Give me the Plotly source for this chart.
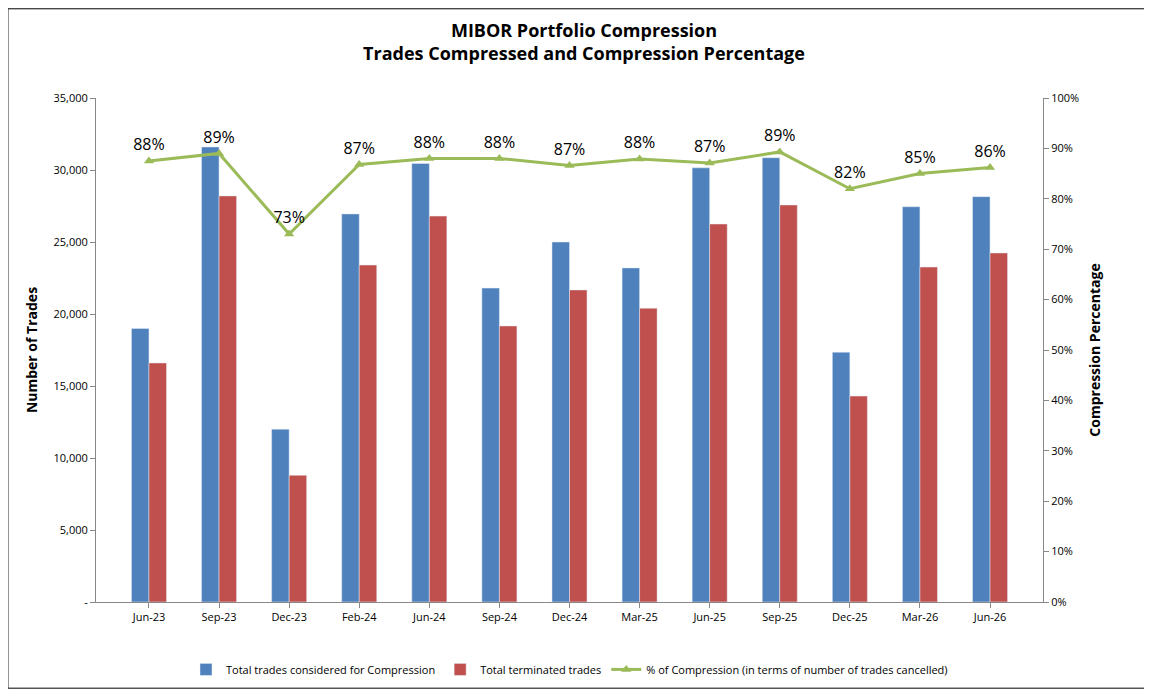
import plotly.graph_objects as go

categories = ["Jun-23","Sep-23","Dec-23","Feb-24","Jun-24","Sep-24","Dec-24","Mar-25","Jun-25","Sep-25","Dec-25","Mar-26","Jun-26"]
total_considered = [19000,31600,12000,26950,30450,21800,25000,23200,30150,30850,17350,27450,28150]
total_terminated = [16600,28200,8800,23400,26800,19170,21670,20400,26250,27570,14300,23260,24240]
pct = [87.5,89,73,86.8,88,88,86.6,87.9,87.1,89.3,82,85,86.2]
pct_labels = ["88%","89%","73%","87%","88%","88%","87%","88%","87%","89%","82%","85%","86%"]

fig = go.Figure()
fig.add_bar(x=categories, y=total_considered, name="Total trades considered for Compression", marker_color="#4F81BD")
fig.add_bar(x=categories, y=total_terminated, name="Total terminated trades", marker_color="#C0504D")
fig.add_scatter(x=categories, y=pct, yaxis="y2", mode="lines+markers+text", text=pct_labels,
                textposition="top center", textfont=dict(size=16, color="black"),
                name="% of Compression (in terms of number of trades cancelled)",
                line=dict(color="#9BBB59", width=3), marker=dict(symbol="triangle-up", size=9, color="#9BBB59"))

fig.update_layout(
    width=1152, height=690, paper_bgcolor="white", plot_bgcolor="white",
    font=dict(family="Open Sans", size=11, color="black"),
    title=dict(text="<b>MIBOR Portfolio Compression<br>Trades Compressed and Compression Percentage</b>",
               x=0.5, xanchor="center", y=0.958, yanchor="middle", yref="container", font=dict(size=18)),
    margin=dict(l=88, r=117, t=90, b=96, autoexpand=False),
    barmode="group", bargap=0.5, bargroupgap=0,
    xaxis=dict(showline=True, linecolor="#888", ticks="outside", tickcolor="#888"),
    yaxis=dict(range=[0,35000], showline=True, linecolor="#888",
               ticks="outside", tickcolor="#888", showgrid=False,
               title=dict(text="<b>Number of Trades</b>", font=dict(size=14), standoff=12),
               tickvals=[0,5000,10000,15000,20000,25000,30000,35000],
               ticktext=["-","5,000","10,000","15,000","20,000","25,000","30,000","35,000"]),
    yaxis2=dict(range=[0,100], dtick=10, ticksuffix="%", overlaying="y", side="right",
                showline=True, linecolor="#888", ticks="outside", tickcolor="#888", showgrid=False,
                title=dict(text="<b>Compression Percentage</b>", font=dict(size=14), standoff=12)),
    legend=dict(orientation="h", x=0.5, xanchor="center", y=-0.105, yanchor="top", font=dict(size=11)),
    shapes=[dict(type="rect", xref="paper", yref="paper", x0=-0.093, x1=1.111, y0=-0.171, y1=1.177,
                 line=dict(color="black", width=1))],
)
fig.write_html("out.html")
